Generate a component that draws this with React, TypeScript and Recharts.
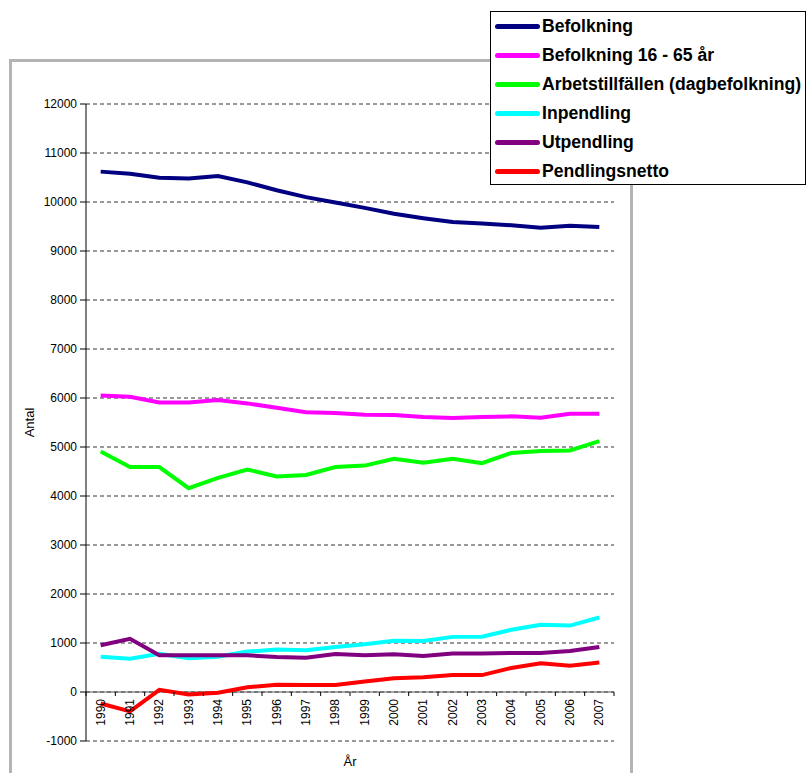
import React from 'react';
import { LineChart, Line, XAxis, YAxis, CartesianGrid, ReferenceLine, Legend, Label } from 'recharts';

const years = ['1990','1991','1992','1993','1994','1995','1996','1997','1998','1999','2000','2001','2002','2003','2004','2005','2006','2007'];
const befolkning = [10620, 10575, 10495, 10480, 10530, 10400, 10240, 10100, 9990, 9880, 9760, 9670, 9590, 9560, 9525, 9475, 9515, 9490];
const befolkning1665 = [6050, 6025, 5910, 5910, 5960, 5890, 5800, 5710, 5695, 5660, 5655, 5610, 5590, 5610, 5625, 5595, 5680, 5680];
const arbetstillfallen = [4910, 4590, 4590, 4160, 4370, 4540, 4400, 4430, 4590, 4620, 4760, 4680, 4760, 4670, 4880, 4920, 4930, 5120];
const inpendling = [720, 680, 780, 690, 720, 825, 865, 850, 920, 975, 1045, 1040, 1125, 1130, 1270, 1370, 1355, 1520];
const utpendling = [955, 1085, 750, 750, 750, 750, 715, 700, 775, 750, 770, 735, 785, 785, 795, 795, 835, 920];
const pendlingsnetto = [-235, -395, 45, -50, -15, 95, 150, 145, 145, 215, 280, 300, 345, 345, 490, 585, 535, 600];
const yTicks = [-1000, 0, 1000, 2000, 3000, 4000, 5000, 6000, 7000, 8000, 9000, 10000, 11000, 12000];

const series = [
  { key: 'befolkning', name: 'Befolkning', color: '#000080', values: befolkning },
  { key: 'befolkning1665', name: 'Befolkning 16 - 65 år', color: '#FF00FF', values: befolkning1665 },
  { key: 'arbetstillfallen', name: 'Arbetstillfällen (dagbefolkning)', color: '#00FF00', values: arbetstillfallen },
  { key: 'inpendling', name: 'Inpendling', color: '#00FFFF', values: inpendling },
  { key: 'utpendling', name: 'Utpendling', color: '#800080', values: utpendling },
  { key: 'pendlingsnetto', name: 'Pendlingsnetto', color: '#FF0000', values: pendlingsnetto },
];

const data = years.map((year, i) => {
  const row: Record<string, string | number> = { year };
  series.forEach((s) => { row[s.key] = s.values[i]; });
  return row;
});

const W = 806;
const H = 773;
const MARGIN = { top: 104, right: 192, bottom: 2, left: 10 };
const Y_AXIS_W = 76;
const X_AXIS_H = 30;
const PLOT_W = W - MARGIN.left - MARGIN.right - Y_AXIS_W;
const PLOT_H = H - MARGIN.top - MARGIN.bottom - X_AXIS_H;
const Y_MIN = -1000;
const Y_MAX = 12000;
const HALF = PLOT_W / years.length / 2;
const FONT = 'Arial, "Liberation Sans", sans-serif';

const YearTick = (props: any) => {
  const { x, y, payload } = props;
  const idx = years.indexOf(String(payload.value));
  const zeroY = y - PLOT_H * (0 - Y_MIN) / (Y_MAX - Y_MIN);
  const ty = zeroY + 7;
  return (
    <g>
      <line x1={x - HALF} x2={x - HALF} y1={zeroY} y2={zeroY + 4} stroke="#000" strokeWidth={1} />
      {idx === years.length - 1 && (
        <line x1={x + HALF} x2={x + HALF} y1={zeroY} y2={zeroY + 4} stroke="#000" strokeWidth={1} />
      )}
      <text
        x={x}
        y={ty}
        transform={`rotate(-90 ${x} ${ty})`}
        textAnchor="end"
        dominantBaseline="central"
        fontSize={12}
        fontFamily={FONT}
        fill="#000"
      >
        {payload.value}
      </text>
    </g>
  );
};

const LegendBox = () => (
  <div
    style={{
      boxSizing: 'border-box',
      width: 316,
      height: 174,
      border: '1px solid #000',
      background: '#fff',
      fontFamily: FONT,
      fontWeight: 'bold',
      fontSize: 17.6,
      color: '#000',
      overflow: 'hidden',
    }}
  >
    {series.map((s) => (
      <div key={s.key} style={{ height: 29, display: 'flex', alignItems: 'center', whiteSpace: 'nowrap' }}>
        <div style={{ width: 45, height: 5, borderRadius: 3, background: s.color, marginLeft: 4, marginRight: 2, flex: 'none' }} />
        <span>{s.name}</span>
      </div>
    ))}
  </div>
);

const renderYLabel = (props: any) => {
  const vb = props.viewBox;
  const cx = vb.x + 19;
  const cy = vb.y + vb.height / 2;
  return (
    <text x={cx} y={cy} transform={`rotate(-90 ${cx} ${cy})`} textAnchor="middle" dominantBaseline="central" fontSize={13} fontFamily={FONT} fill="#000">
      Antal
    </text>
  );
};

const renderXLabel = (props: any) => {
  const vb = props.viewBox;
  const cx = vb.x + vb.width / 2;
  const cy = vb.y + 20;
  return (
    <text x={cx} y={cy} textAnchor="middle" dominantBaseline="central" fontSize={13} fontFamily={FONT} fill="#000">
      År
    </text>
  );
};

export default function App() {
  return (
    <div style={{ position: 'absolute', left: 0, top: 0, width: W, height: H, overflow: 'hidden', background: '#fff' }}>
      <div
        style={{
          position: 'absolute',
          left: 9,
          top: 59,
          width: 624,
          height: 760,
          boxSizing: 'border-box',
          border: '3px solid #b4b4b4',
        }}
      />
      <div style={{ position: 'absolute', left: 0, top: 0 }}>
        <LineChart width={W} height={H} data={data} margin={MARGIN}>
          <CartesianGrid vertical={false} strokeDasharray="4 3" stroke="#333" />
          <XAxis
            dataKey="year"
            height={X_AXIS_H}
            axisLine={false}
            tickLine={false}
            tickSize={0}
            tickMargin={0}
            interval={0}
            padding={{ left: HALF, right: HALF }}
            tick={<YearTick />}
          >
            <Label content={renderXLabel} />
          </XAxis>
          <YAxis
            type="number"
            domain={[Y_MIN, Y_MAX]}
            ticks={yTicks}
            interval={0}
            width={Y_AXIS_W}
            axisLine={{ stroke: '#000' }}
            tickLine={{ stroke: '#000' }}
            tickSize={6}
            tickMargin={3}
            tick={{ fontSize: 12, fill: '#000', fontFamily: FONT }}
          >
            <Label content={renderYLabel} />
          </YAxis>
          <ReferenceLine y={0} stroke="#555" strokeWidth={1} />
          {series.map((s) => (
            <Line
              key={s.key}
              type="linear"
              dataKey={s.key}
              name={s.name}
              stroke={s.color}
              strokeWidth={4}
              dot={false}
              activeDot={false}
              isAnimationActive={false}
            />
          ))}
          <Legend
            layout="vertical"
            align="center"
            verticalAlign="middle"
            content={<LegendBox />}
            wrapperStyle={{ position: 'absolute', left: 490, top: 11, width: 316, height: 174, margin: 0 }}
          />
        </LineChart>
      </div>
    </div>
  );
}
